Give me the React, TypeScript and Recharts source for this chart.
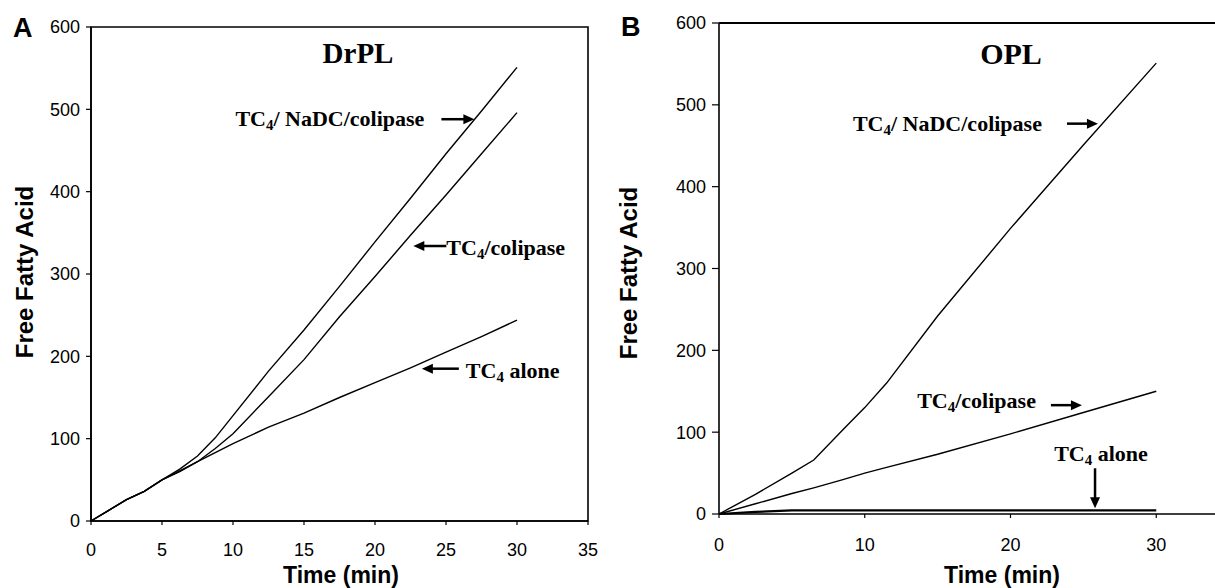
import React from 'react';
import { LineChart, Line, XAxis, YAxis, ReferenceArea, ReferenceLine, ReferenceDot } from 'recharts';

// Panel A (DrPL)
const timeA = [0, 1.25, 2.5, 3.75, 5, 6.25, 7.5, 8.75, 10, 12.5, 15, 17.5, 20, 22.5, 25, 27.5, 30];
const nadcA = [0, 13, 26, 36, 50, 63, 79, 101, 128, 182, 232, 285, 339, 392, 446, 498, 551];
const colipaseA = [0, 13, 26, 36, 50, 60, 72, 88, 106, 151, 196, 248, 297, 347, 396, 446, 496];
const aloneA = [0, 13, 26, 36, 50, 61, 72, 83, 94, 114, 131, 150, 168, 186, 205, 224, 244];

// Panel B (OPL)
const timeB = [0, 2.5, 5, 6.5, 8.5, 10, 11.5, 15, 20, 25, 30];
const nadcB = [0, 24, 50, 66, 103, 130, 160, 242, 349, 451, 551];
const colipaseB = [0, 12.5, 25, 32, 42, 50, 57, 73, 98, 124, 150];
const aloneB = [0, 2.5, 4.5, 4.5, 4.5, 4.5, 4.5, 4.5, 4.5, 4.5, 4.5];

const yTicks = [0, 100, 200, 300, 400, 500, 600];
const xTicksA = [0, 5, 10, 15, 20, 25, 30, 35];
const xTicksB = [0, 10, 20, 30];

const dataA = timeA.map((t, i) => ({ t, nadc: nadcA[i], colipase: colipaseA[i], alone: aloneA[i] }));
const dataB = timeB.map((t, i) => ({ t, nadc: nadcB[i], colipase: colipaseB[i], alone: aloneB[i] }));

type Ann = {
  t: number; v: number; dir: 'left' | 'right' | 'down'; len: number;
  dx: number; dy: number; anchor: 'start' | 'end' | 'middle'; rest: string;
};

const annA: Ann[] = [
  { t: 27.0, v: 488, dir: 'right', len: 33, dx: -50, dy: 7, anchor: 'end', rest: '/ NaDC/colipase' },
  { t: 22.7, v: 334, dir: 'left', len: 33, dx: 33, dy: 9, anchor: 'start', rest: '/colipase' },
  { t: 23.3, v: 185, dir: 'left', len: 37, dx: 44, dy: 9, anchor: 'start', rest: ' alone' },
];
const annB: Ann[] = [
  { t: 26.0, v: 477, dir: 'right', len: 31, dx: -56, dy: 7, anchor: 'end', rest: '/ NaDC/colipase' },
  { t: 24.9, v: 133, dir: 'right', len: 31, dx: -46, dy: 3, anchor: 'end', rest: '/colipase' },
  { t: 25.8, v: 7, dir: 'down', len: 40, dx: 6, dy: -47, anchor: 'middle', rest: ' alone' },
];

const SERIF = '"Liberation Serif", "Times New Roman", serif';
const SANS = '"Liberation Sans", Arial, sans-serif';

const makeShape = (a: Ann) => (props: any) => {
  const { cx, cy } = props;
  let arrow: React.ReactNode = null;
  if (a.dir === 'right') {
    arrow = (
      <g>
        <line x1={cx - a.len} y1={cy} x2={cx - 9} y2={cy} stroke="#000" strokeWidth={2.5} />
        <polygon points={`${cx},${cy} ${cx - 11},${cy - 5} ${cx - 11},${cy + 5}`} fill="#000" />
      </g>
    );
  } else if (a.dir === 'left') {
    arrow = (
      <g>
        <line x1={cx + a.len} y1={cy} x2={cx + 9} y2={cy} stroke="#000" strokeWidth={2.5} />
        <polygon points={`${cx},${cy} ${cx + 11},${cy - 5} ${cx + 11},${cy + 5}`} fill="#000" />
      </g>
    );
  } else {
    arrow = (
      <g>
        <line x1={cx} y1={cy - a.len} x2={cx} y2={cy - 9} stroke="#000" strokeWidth={2.5} />
        <polygon points={`${cx},${cy} ${cx - 5},${cy - 11} ${cx + 5},${cy - 11}`} fill="#000" />
      </g>
    );
  }
  return (
    <g>
      {arrow}
      <text x={cx + a.dx} y={cy + a.dy} textAnchor={a.anchor} fontFamily={SERIF} fontWeight="bold" fontSize={22} fill="#000">
        TC<tspan dy={4} fontSize={15}>4</tspan><tspan dy={-4}>{a.rest}</tspan>
      </text>
    </g>
  );
};

const tickStyle = { fontFamily: SANS, fontSize: 18, fill: '#000' };
const axisLine = { stroke: '#000', strokeWidth: 1.6 };

export default function App() {
  return (
    <div style={{ position: 'absolute', left: 0, top: 0, width: 1215, height: 588, overflow: 'hidden', background: '#fff' }}>
      <div style={{ position: 'absolute', left: 0, top: 0 }}>
        <LineChart width={600} height={588} data={dataA} margin={{ top: 27, right: 12, bottom: 37, left: 31 }}>
          <XAxis dataKey="t" type="number" domain={[0, 35]} ticks={xTicksA} tick={tickStyle}
            axisLine={axisLine} tickLine={{ stroke: '#000', strokeWidth: 1.2 }} tickSize={4} tickMargin={18} height={30} />
          <YAxis type="number" domain={[0, 600]} ticks={yTicks} tick={tickStyle} width={60}
            axisLine={axisLine} tickLine={{ stroke: '#000', strokeWidth: 1.2 }} tickSize={5} tickMargin={6} />
          <ReferenceArea x1={0} x2={35} y1={0} y2={600} fill="none" stroke="#000" strokeWidth={1.6} ifOverflow="visible" />
          <Line type="linear" dataKey="nadc" stroke="#000" strokeWidth={1.4} dot={false} isAnimationActive={false} />
          <Line type="linear" dataKey="colipase" stroke="#000" strokeWidth={1.4} dot={false} isAnimationActive={false} />
          <Line type="linear" dataKey="alone" stroke="#000" strokeWidth={1.4} dot={false} isAnimationActive={false} />
          {annA.map((a, i) => (
            <ReferenceDot key={i} x={a.t} y={a.v} r={0} ifOverflow="visible" shape={makeShape(a)} />
          ))}
        </LineChart>
      </div>
      <div style={{ position: 'absolute', left: 600, top: 0 }}>
        <LineChart width={712} height={588} data={dataB} margin={{ top: 23, right: 10, bottom: 44, left: 59 }}>
          <XAxis dataKey="t" type="number" domain={[0, 40]} ticks={xTicksB} tick={tickStyle}
            axisLine={axisLine} tickLine={{ stroke: '#000', strokeWidth: 1.2 }} tickSize={4} tickMargin={20} height={30} />
          <YAxis type="number" domain={[0, 600]} ticks={yTicks} tick={tickStyle} width={60}
            axisLine={axisLine} tickLine={{ stroke: '#000', strokeWidth: 1.2 }} tickSize={7} tickMargin={6} />
          <ReferenceLine y={600} stroke="#000" strokeWidth={1.8} ifOverflow="visible" />
          <Line type="linear" dataKey="nadc" stroke="#000" strokeWidth={1.4} dot={false} isAnimationActive={false} />
          <Line type="linear" dataKey="colipase" stroke="#000" strokeWidth={1.4} dot={false} isAnimationActive={false} />
          <Line type="linear" dataKey="alone" stroke="#000" strokeWidth={2.2} dot={false} isAnimationActive={false} />
          {annB.map((a, i) => (
            <ReferenceDot key={i} x={a.t} y={a.v} r={0} ifOverflow="visible" shape={makeShape(a)} />
          ))}
        </LineChart>
      </div>
      <svg width={1215} height={588} style={{ position: 'absolute', left: 0, top: 0, pointerEvents: 'none' }}>
        <text x={13} y={37} fontFamily={SANS} fontWeight="bold" fontSize={27} fill="#000">A</text>
        <text x={621} y={36} fontFamily={SANS} fontWeight="bold" fontSize={27} fill="#000">B</text>
        <text x={358} y={63} textAnchor="middle" fontFamily={SERIF} fontWeight="bold" fontSize={29} fill="#000">DrPL</text>
        <text x={1011} y={64} textAnchor="middle" fontFamily={SERIF} fontWeight="bold" fontSize={30} fill="#000">OPL</text>
        <text transform="translate(33,272) rotate(-90)" textAnchor="middle" fontFamily={SANS} fontWeight="bold" fontSize={24} fill="#000">Free Fatty Acid</text>
        <text transform="translate(637,273) rotate(-90)" textAnchor="middle" fontFamily={SANS} fontWeight="bold" fontSize={24} fill="#000">Free Fatty Acid</text>
        <text x={341} y={583} textAnchor="middle" fontFamily={SANS} fontWeight="bold" fontSize={23} fill="#000">Time (min)</text>
        <text x={1002} y={583} textAnchor="middle" fontFamily={SANS} fontWeight="bold" fontSize={23} fill="#000">Time (min)</text>
      </svg>
    </div>
  );
}
